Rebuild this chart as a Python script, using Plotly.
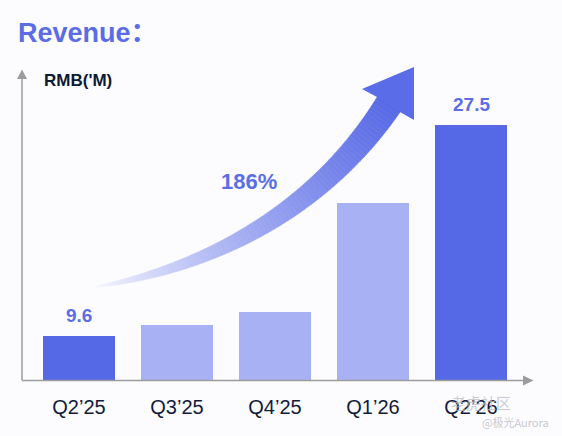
import numpy as np
import plotly.graph_objects as go

W, H = 562, 436

quarters = ["Q2’25", "Q3’25", "Q4’25", "Q1’26", "Q2’26"]
revenue = [9.6, 10.5, 11.6, 20.9, 27.5]
labelled = [0, 4]          # bars that carry a value label
growth_text = "186%"

dark = "#5569e6"
light = "#a8b1f3"
bg = "#fcfcff"
axis_grey = "#9c9c9c"


def px(x):
    return x / W


def py(y):
    return 1 - y / H


def path(points):
    return "M " + " L ".join(f"{px(x):.5f},{py(y):.5f}" for x, y in points) + " Z"


# value axis: baseline sits at pixel row 380.5, ~11.75 px per RMB m
base_px, top_px, px_per_unit, y_floor = 380.5, 60, 11.754, 5.79
y_ceil = y_floor + (base_px - top_px) / px_per_unit

colors = [dark if i in labelled else light for i in range(len(quarters))]

fig = go.Figure()
fig.add_trace(go.Bar(
    x=quarters, y=revenue,
    marker=dict(color=colors, line=dict(width=0)),
    width=0.735, hoverinfo="x+y",
))

shapes = []
# axes with arrow heads
shapes.append(dict(type="line", xref="paper", yref="paper",
                   x0=px(22), y0=py(base_px), x1=px(22), y1=py(78),
                   line=dict(color=axis_grey, width=1.5)))
shapes.append(dict(type="path", xref="paper", yref="paper",
                   path=path([(17, 79), (22, 69.5), (27, 79)]),
                   fillcolor=axis_grey, line=dict(width=0)))
shapes.append(dict(type="line", xref="paper", yref="paper",
                   x0=px(22), y0=py(base_px), x1=px(524), y1=py(base_px),
                   line=dict(color=axis_grey, width=1.5)))
shapes.append(dict(type="path", xref="paper", yref="paper",
                   path=path([(523, 375.5), (533.5, 380.5), (523, 385.5)]),
                   fillcolor=axis_grey, line=dict(width=0)))

# curved growth arrow, gradient from pale to solid blue
P = np.array([[95, 287], [210, 268], [320, 210], [389, 104]], dtype=float)
n = 90
ts = np.linspace(0, 1, n + 1)


def bez(t):
    return ((1 - t) ** 3 * P[0] + 3 * (1 - t) ** 2 * t * P[1]
            + 3 * (1 - t) * t ** 2 * P[2] + t ** 3 * P[3])


def bez_d(t):
    return (3 * (1 - t) ** 2 * (P[1] - P[0]) + 6 * (1 - t) * t * (P[2] - P[1])
            + 3 * t ** 2 * (P[3] - P[2]))


c0 = np.array([250, 250, 255])
c1 = np.array([88, 106, 230])
left, right = [], []
for t in ts:
    c = bez(t)
    d = bez_d(t)
    nrm = np.array([d[1], -d[0]]) / np.linalg.norm(d)
    w = 0.5 + 27 * t ** 0.75
    left.append(c - nrm * w / 2)
    right.append(c + nrm * w / 2)

for i in range(n):
    tm = (ts[i] + ts[i + 1]) / 2
    rgb = c0 + (c1 - c0) * tm ** 0.8
    col = f"rgb({int(rgb[0])},{int(rgb[1])},{int(rgb[2])})"
    quad = [tuple(left[i]), tuple(left[i + 1]), tuple(right[i + 1]), tuple(right[i])]
    shapes.append(dict(type="path", xref="paper", yref="paper", path=path(quad),
                       fillcolor=col, line=dict(color=col, width=0.6)))

shapes.append(dict(type="path", xref="paper", yref="paper",
                   path=path([(377, 97), (362, 89), (414, 67), (414, 120), (400, 112)]),
                   fillcolor="rgb(90,108,231)", line=dict(width=0)))

annotations = [
    dict(text="<b>Revenue：</b>", x=px(16), y=py(33), xanchor="left", yanchor="middle",
         font=dict(size=27, color="#5a6de6",
                   family="Liberation Sans, Arial, Noto Sans CJK SC")),
    dict(text="<b>RMB('M)</b>", x=px(42), y=py(80.5), xanchor="left", yanchor="middle",
         font=dict(size=17, color="#0e1a33", family="Liberation Sans, Arial")),
    dict(text=f"<b>{growth_text}</b>", x=px(248.5), y=py(181.5), xanchor="center",
         yanchor="middle", font=dict(size=22, color="#5b6ee6", family="Liberation Sans, Arial")),
    dict(text="老虎社区", x=px(513), y=py(402), xanchor="right", yanchor="middle",
         font=dict(size=15, color="rgba(185,185,195,0.75)", family="Noto Sans CJK SC")),
    dict(text="@极光Aurora", x=px(551), y=py(422), xanchor="right", yanchor="middle",
         font=dict(size=11, color="rgba(185,185,195,0.8)", family="Noto Sans CJK SC")),
]
for i in labelled:
    annotations.append(dict(
        text=f"<b>{revenue[i]}</b>", x=quarters[i], y=revenue[i], xref="x", yref="y",
        xanchor="center", yanchor="bottom", yshift=8, showarrow=False,
        font=dict(size=19, color="#5b6ee6", family="Liberation Sans, Arial")))
for a in annotations:
    a.setdefault("xref", "paper")
    a.setdefault("yref", "paper")
    a.setdefault("showarrow", False)

fig.update_layout(
    width=W, height=H,
    margin=dict(l=0, r=0, t=0, b=0, pad=0),
    paper_bgcolor=bg, plot_bgcolor=bg,
    showlegend=False,
    bargap=0,
    xaxis=dict(domain=[px(30), px(520)], range=[-0.5, 4.5], showgrid=False,
               showline=False, zeroline=False, automargin=False,
               ticks="outside", ticklen=8, tickcolor="rgba(0,0,0,0)",
               tickfont=dict(size=20, color="#121a3a", family="Liberation Sans, Arial"),
               fixedrange=True),
    yaxis=dict(domain=[py(base_px), py(top_px)], range=[y_floor, y_ceil],
               visible=False, automargin=False, fixedrange=True),
    shapes=shapes,
    annotations=annotations,
)

# drop the browser's default body margin so the 562x436 figure fills the window
fig.write_html("out.html", config={"displayModeBar": False},
               post_script="document.body.style.margin='0';")
